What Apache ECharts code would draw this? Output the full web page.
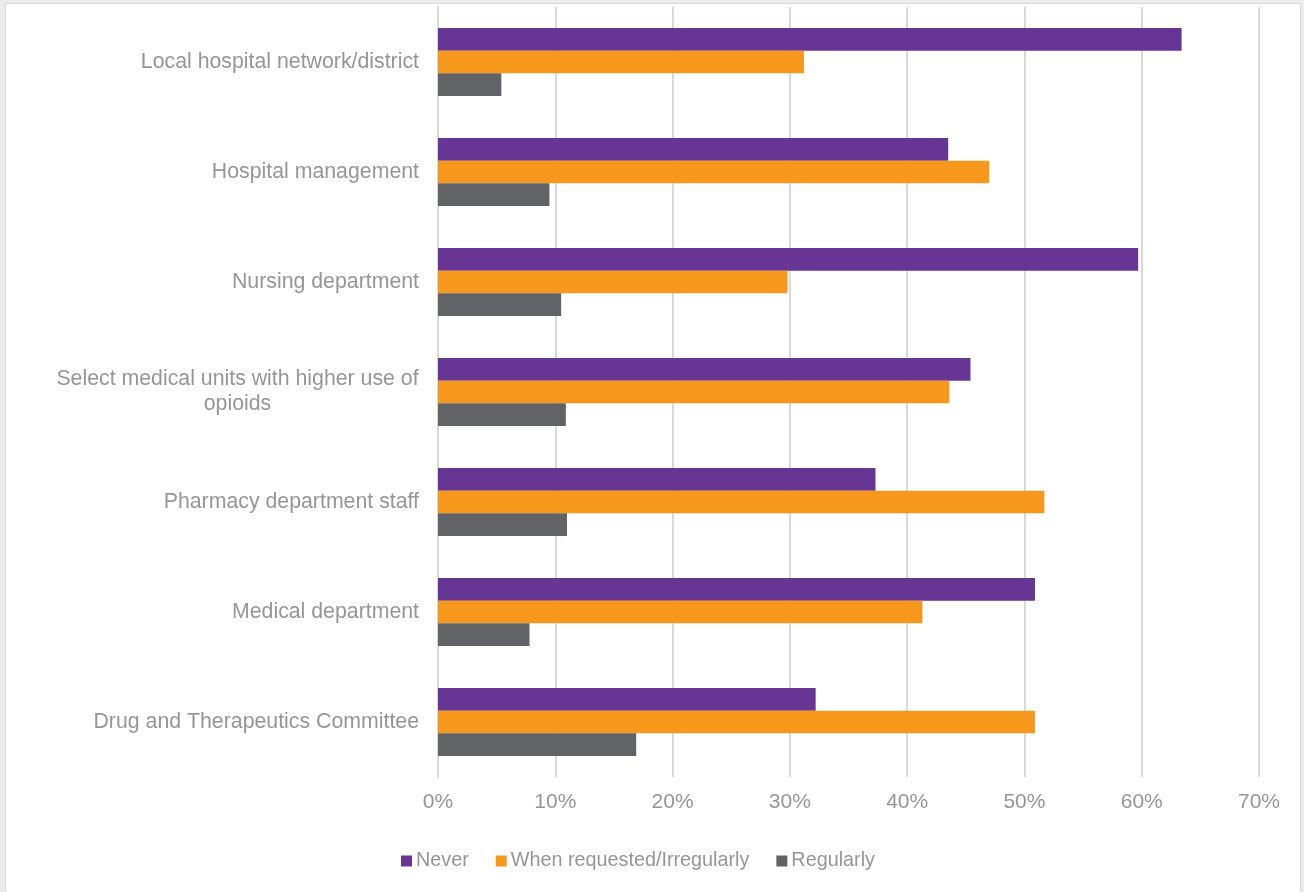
<!DOCTYPE html>
<html><head><meta charset="utf-8">
<script src="https://cdn.jsdelivr.net/npm/echarts@6/dist/echarts.min.js"></script>
<style>
html,body{margin:0;padding:0;background:#ececec;width:1304px;height:892px;overflow:hidden;}
#frame{position:absolute;left:5px;top:3px;width:1294px;height:900px;background:#fff;border:1px solid #d9d9d9;}
#chart{position:absolute;left:0;top:0;width:1304px;height:892px;}
</style></head>
<body><div id="frame"></div><div id="chart"></div>
<script>
const categories = [
  'Local hospital network/district',
  'Hospital management',
  'Nursing department',
  'Select medical units with higher use of\nopioids',
  'Pharmacy department staff',
  'Medical department',
  'Drug and Therapeutics Committee'
];
const seriesNames = ['Never', 'When requested/Irregularly', 'Regularly'];
const never = [63.4, 43.5, 59.7, 45.4, 37.3, 50.9, 32.2];
const whenRequested = [31.2, 47.0, 29.8, 43.6, 51.7, 41.3, 50.9];
const regularly = [5.4, 9.5, 10.5, 10.9, 11.0, 7.8, 16.9];
const colors = ['#673695', '#F7981D', '#626366'];

const chart = echarts.init(document.getElementById('chart'), null, {renderer:'canvas'});
const txt = '#969696';
const font = 'Liberation Sans, Arial, sans-serif';
chart.setOption({
  animation:false,
  backgroundColor:'transparent',
  color: colors,
  grid:{left:438, right:45, top:7, bottom:115, containLabel:false},
  legend:{
    bottom:16, left:396, itemWidth:11, itemHeight:11, itemGap:27, icon:'rect',
    textStyle:{color:txt, fontSize:19.8, fontFamily:font, padding:[0,0,0,-1]},
    data: seriesNames
  },
  xAxis:{
    type:'value', min:0, max:70, interval:10,
    axisLabel:{formatter:'{value}%', color:txt, fontSize:21, fontFamily:font, margin:15},
    splitLine:{show:true, lineStyle:{color:'#d9d9d9', width:2}},
    axisLine:{show:false}, axisTick:{show:false}
  },
  yAxis:{
    type:'category', data:categories, inverse:true,
    axisLine:{show:true, lineStyle:{color:'#d9d9d9', width:2}},
    axisTick:{show:false},
    axisLabel:{
      color:txt, fontSize:21.3, fontFamily:font, margin:19, lineHeight:25,
      formatter: function(v){
        if (v.indexOf('\n') >= 0) {
          return v.split('\n').map(s => '{c|' + s + '}').join('\n');
        }
        return v;
      },
      rich:{c:{width:363, align:'center', color:txt, fontSize:21.3, fontFamily:font, lineHeight:25}}
    }
  },
  series:[
    {name:seriesNames[0], type:'bar', data:never, barGap:'0%', barCategoryGap:'38%'},
    {name:seriesNames[1], type:'bar', data:whenRequested, barGap:'0%', barCategoryGap:'38%'},
    {name:seriesNames[2], type:'bar', data:regularly, barGap:'0%', barCategoryGap:'38%'}
  ]
});
</script></body></html>
